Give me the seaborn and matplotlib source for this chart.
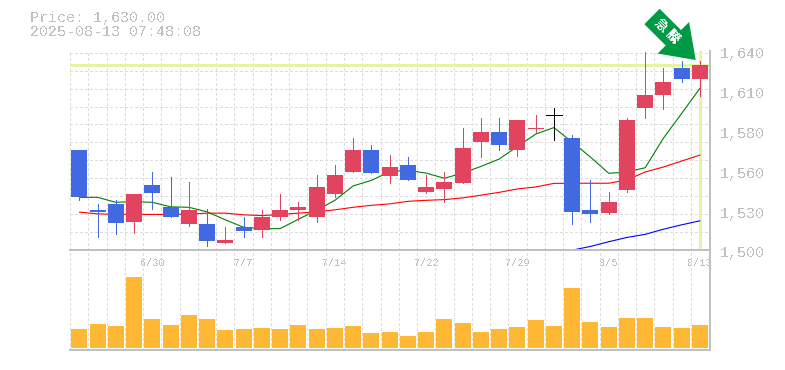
import numpy as np
import pandas as pd
import seaborn as sns
import matplotlib.pyplot as plt
import matplotlib.patches as mpatches
from matplotlib.transforms import IdentityTransform, ScaledTranslation

# Daily prices
opens = [1570, 1528, 1532, 1520, 1546, 1530, 1518, 1518, 1505, 1516, 1514, 1523,
         1528, 1523, 1539, 1555, 1570, 1552, 1560, 1541, 1543, 1547, 1576, 1583,
         1570, 1585, 1595, 1579, 1528, 1526, 1542, 1600, 1609, 1628, 1620]
closes = [1537, 1527, 1519, 1539, 1540, 1523, 1528, 1506, 1507, 1513, 1523, 1528,
          1530, 1544, 1553, 1570, 1554, 1558, 1549, 1544, 1548, 1572, 1583, 1574,
          1591, 1586, 1595, 1527, 1525, 1534, 1591, 1609, 1618, 1620, 1630]
highs = [1570, 1532, 1535, 1539, 1555, 1551, 1548, 1529, 1516, 1523, 1528, 1539,
         1534, 1553, 1560, 1579, 1574, 1567, 1565, 1553, 1555, 1586, 1593, 1593,
         1591, 1595, 1600, 1581, 1549, 1541, 1593, 1639, 1628, 1633, 1633]
lows = [1535, 1509, 1511, 1512, 1529, 1523, 1517, 1503, 1505, 1509, 1509, 1521,
        1521, 1520, 1537, 1555, 1554, 1547, 1549, 1540, 1534, 1547, 1565, 1570,
        1566, 1583, 1577, 1518, 1520, 1525, 1541, 1593, 1599, 1618, 1608]

# Moving averages
ma_short = [1537, 1537, 1533.5, 1534, 1533.5, 1530.3, 1530, 1526.8, 1521.2, 1516, 1515, 1515,
            1521.6, 1527.9, 1534.9, 1545, 1548.9, 1555, 1555.9, 1554, 1550.4, 1554, 1558.7, 1563.9,
            1572.7, 1581.4, 1586, 1575.8, 1565.3, 1553.9, 1554.8, 1557.8, 1578.6, 1596, 1613.6]
ma_mid = [1526.6, 1525.4, 1525, 1525, 1525, 1525, 1525.2, 1525.9, 1525.9, 1524.7, 1524.2, 1524.9,
          1525.9, 1526.8, 1528.2, 1530, 1531.4, 1532.4, 1534.2, 1534.9, 1535.4, 1536.6, 1538.5, 1540.5,
          1542.9, 1544.3, 1546.8, 1546.9, 1546.9, 1546.9, 1549.2, 1554.8, 1558.3, 1562.5, 1566.7]
ma_long = [np.nan] * 27 + [1499.9, 1502.5, 1505.8, 1508.8, 1511, 1514.6, 1517.7, 1520.5]

volume = [57, 72, 66, 213, 87, 69, 99, 87, 54, 57, 60, 57, 69, 57, 60, 66, 45, 48,
          36, 48, 87, 75, 48, 57, 63, 84, 66, 180, 78, 63, 90, 90, 63, 60, 69]

date_pos = [4, 9, 14, 19, 24, 29, 34]
date_labels = ['6/30', '7/7', '7/14', '7/22', '7/29', '8/5', '8/13']
price_ticks = [1500, 1528, 1556, 1584, 1612, 1640]
price_labels = ['1,500', '1,530', '1,560', '1,580', '1,610', '1,640']
current_price = 1630

BLUE = '#4169e1'
RED = '#e2435f'
GREY = '#c0c0c0'
GRID = '#dcdcdc'
HILITE = '#e4f3a5'
PX = 0.72  # one pixel in points at dpi 100

sns.set_theme(style='white')
plt.rcParams['font.family'] = ['Liberation Mono', 'DejaVu Sans']
plt.rcParams['text.antialiased'] = False
plt.rcParams['lines.antialiased'] = False
plt.rcParams['patch.antialiased'] = False

df = pd.DataFrame({'i': range(len(opens)), 'open': opens, 'close': closes, 'high': highs,
                   'low': lows, 'short': ma_short, 'mid': ma_mid, 'long': ma_long, 'vol': volume})

fig = plt.figure(figsize=(7.85, 3.70), dpi=100)
W, H = 785, 370
ax = fig.add_axes([70 / W, 1 - 250.0 / H, (710 - 70) / W, (250.0 - 50.7) / H])
ax_vol = fig.add_axes([70 / W, 1 - 350 / H, (710 - 70) / W, (350 - 250.0) / H], sharex=ax)
ax_vol.patch.set_alpha(0)

# Highlight of last price and last day
ax.axhline(current_price, color=HILITE, lw=3 * PX, zorder=1.5)
ax.vlines(df['i'].iloc[-1], 1501.5, 1639.5, color=HILITE, lw=3 * PX, zorder=1.5)

# Moving averages, behind the candles
sns.lineplot(data=df, x='i', y='short', color='green', linewidth=0.8, antialiased=True, ax=ax, zorder=2, errorbar=None)
sns.lineplot(data=df, x='i', y='mid', color='red', linewidth=0.8, antialiased=True, ax=ax, zorder=2, errorbar=None)
sns.lineplot(data=df, x='i', y='long', color='blue', linewidth=0.8, antialiased=True, ax=ax, zorder=2, errorbar=None)

# Candles
colors = [BLUE if c < o else RED if c > o else 'black' for o, c in zip(opens, closes)]
ax.vlines(df['i'], df['low'], df['high'], colors=colors, lw=PX, zorder=3)
bottoms = df[['open', 'close']].min(axis=1)
heights = (df['close'] - df['open']).abs()
ax.bar(df['i'], heights, bottom=bottoms, width=0.88, color=colors, lw=0, zorder=3)
flat = df[df['open'] == df['close']]
ax.hlines(flat['open'], flat['i'] - 0.44, flat['i'] + 0.44, color='black', lw=PX, zorder=3)

# Volume
sns.barplot(data=df, x='i', y='vol', color='#ffb833', saturation=1, width=0.88, linewidth=0,
            native_scale=True, ax=ax_vol, zorder=3)

ax.set_xlim(-0.51, 34.55)
ax.set_ylim(1500, 1639.5)
ax_vol.set_ylim(-6, 294)

for a in (ax, ax_vol):
    a.set_xlabel('')
    a.set_ylabel('')
    a.set_axisbelow(True)
    a.set_xticks(df['i'] - 0.5, minor=True)
    a.grid(True, which='minor', axis='x', color=GRID, ls=(0, (2.6, 2.6)), lw=PX)
    a.tick_params(which='both', length=0)
    for s in ('left', 'top'):
        a.spines[s].set_visible(False)
    for s in ('right', 'bottom'):
        a.spines[s].set_color(GREY)
        a.spines[s].set_linewidth(1.1)

ax.set_yticks(np.arange(12) * 12.6 + 1500, minor=True)
ax.grid(True, which='minor', axis='y', color=GRID, ls=(0, (2.6, 2.6)), lw=PX)
ax.grid(False, which='major')
ax.yaxis.tick_right()
ax.set_yticks(price_ticks)
ax.set_yticklabels(price_labels, fontsize=10.8, color=GREY)
ax.tick_params(axis='y', which='major', pad=7)
shift = ScaledTranslation(0, -1.4 / 72, fig.dpi_scale_trans)
for lab in ax.get_yticklabels():
    lab.set_transform(lab.get_transform() + shift)

ax.set_xticks(date_pos)
ax.set_xticklabels(date_labels, fontsize=7.3, color=GREY)
ax.tick_params(axis='x', which='major', pad=5.8)
ax_vol.spines['top'].set_visible(True)
ax_vol.spines['top'].set_color(GREY)
ax_vol.spines['top'].set_linewidth(1.1)
ax_vol.set_yticks([])
ax_vol.tick_params(axis='x', which='major', labelbottom=False)

# Header
fig.text(30 / W, 1 - 18 / H, 'Price: 1,630.00', fontsize=10.8, color=GREY, va='center')
fig.text(30 / W, 1 - 32 / H, '2025-08-13 07:48:08', fontsize=10.8, color=GREY, va='center')

# Marker arrow in the top right corner
arrow = mpatches.FancyArrow(652, H - 16.5, 43.7, -43.5, width=21.7, head_width=44.5, head_length=31.5,
                            length_includes_head=True, color='#009944', lw=0, antialiased=True,
                            transform=IdentityTransform(), zorder=10)
fig.add_artist(arrow)
fig.text(666.5 / W, 1 - 30.5 / H, '急 騰', fontsize=9.5, fontweight='bold', color='white', rotation=-45,
         ha='center', va='center', family=['Noto Sans CJK JP', 'DejaVu Sans'], zorder=11)

fig.savefig('out.png', dpi=100)
plt.close()
